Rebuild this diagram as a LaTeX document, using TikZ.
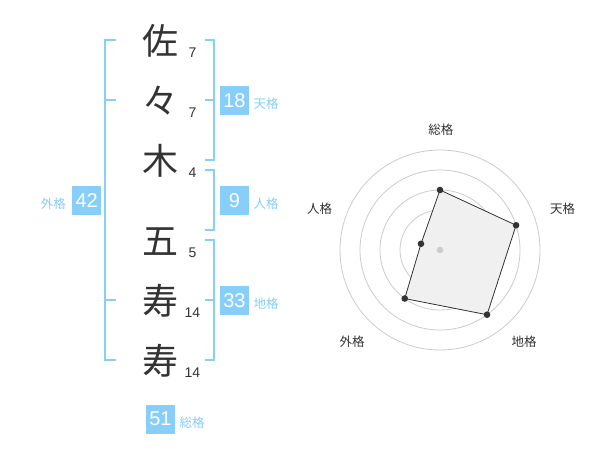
\documentclass[tikz,border=0pt]{standalone}
\usepackage{fontspec}
\setmainfont{Liberation Sans}
\newfontfamily\cjk{Noto Sans CJK JP}
\definecolor{sky}{RGB}{135,206,250}
\definecolor{ink}{HTML}{333333}
\definecolor{ringc}{HTML}{CCCCCC}
\definecolor{area}{HTML}{F0F0F0}
\begin{document}
\begin{tikzpicture}[x=1pt,y=-1pt,
  kanji/.style={font=\cjk\fontsize{36}{36}\selectfont, text=ink, inner sep=0pt, anchor=base},
  strokes/.style={font=\fontsize{14}{14}\selectfont, text=ink, inner sep=0pt},
  scorebox/.style={fill=sky, minimum width=29pt, minimum height=29pt, inner sep=0pt, text=white, font=\fontsize{20}{20}\selectfont},
  kaku/.style={font=\cjk\fontsize{12.5}{12.5}\selectfont, text=sky, inner sep=0pt},
  axislabel/.style={font=\cjk\fontsize{12.5}{12.5}\selectfont, text=ink, inner sep=0pt},
  bracket/.style={draw=sky, line width=2pt},
  ringline/.style={draw=ringc, line width=0.8pt},
  dot/.style={fill=ink},
]
\useasboundingbox[fill=white] (0,0) rectangle (600,470);

% kanji
\node[kanji] (k1) at (160,54.5) {佐};
\node[kanji] (k2) at (160,114.5) {々};
\node[kanji] (k3) at (160,174.5) {木};
\node[kanji] (k4) at (160,254.5) {五};
\node[kanji] (k5) at (160,314.5) {寿};
\node[kanji] (k6) at (160,374.5) {寿};

% stroke counts
\node[strokes] (n1) at (192.5,52.5) {7};
\node[strokes] (n2) at (192.5,112.5) {7};
\node[strokes] (n3) at (192.5,172.5) {4};
\node[strokes] (n4) at (192.5,252.5) {5};
\node[strokes] (n5) at (192.5,312.5) {14};
\node[strokes] (n6) at (192.5,372.5) {14};

% brackets
\coordinate (la) at (116,40); \coordinate (lb) at (116,360);
\draw[bracket] (la) -- (105,40) -- (105,360) -- (lb);
\draw[bracket] (105,100) -- (116,100);
\draw[bracket] (105,300) -- (116,300);

\draw[bracket] (205,40) -- (214,40) -- (214,160) -- (205,160);
\draw[bracket] (205,100) -- (214,100);
\draw[bracket] (205,170) -- (214,170) -- (214,230) -- (205,230);
\draw[bracket] (205,240) -- (214,240) -- (214,360) -- (205,360);
\draw[bracket] (205,300) -- (214,300);

% score boxes
\node[scorebox] (ten) at (234.5,100.5) {18};
\node[kaku] (tenl) at (266,104) {天格};
\node[scorebox] (jin) at (234.5,200.5) {9};
\node[kaku] (jinl) at (266,204) {人格};
\node[scorebox] (chi) at (234.5,300.5) {33};
\node[kaku] (chil) at (266,304) {地格};
\node[scorebox] (gai) at (86.7,200.5) {42};
\node[kaku] (gail) at (53.3,204) {外格};
\node[scorebox] (sou) at (160.5,419) {51};
\node[kaku] (soul) at (192,422.5) {総格};

% radar
\begin{scope}[shift={(440,250)}, yscale=-1]
  \foreach \r in {20,40,60,80,100} \draw[ringline] (0,0) circle[radius=\r];
  \coordinate (p1) at (90:60);
  \coordinate (p2) at (18:80);
  \coordinate (p3) at (-54:80);
  \coordinate (p4) at (-126:60);
  \coordinate (p5) at (162:20);
  \filldraw[fill=area, draw=ink, line width=0.8pt] (p1) -- (p2) -- (p3) -- (p4) -- (p5) -- cycle;
  \foreach \p in {p1,p2,p3,p4,p5} \fill[dot] (\p) circle[radius=3.3];
  \fill[ringc] (0,0) circle[radius=3.2];
\end{scope}

\node[axislabel] (a1) at (440.8,129.5) {総格};
\node[axislabel] (a2) at (562.5,208.5) {天格};
\node[axislabel] (a3) at (524,342) {地格};
\node[axislabel] (a4) at (352,342) {外格};
\node[axislabel] (a5) at (319.5,208.5) {人格};
\end{tikzpicture}
\end{document}
